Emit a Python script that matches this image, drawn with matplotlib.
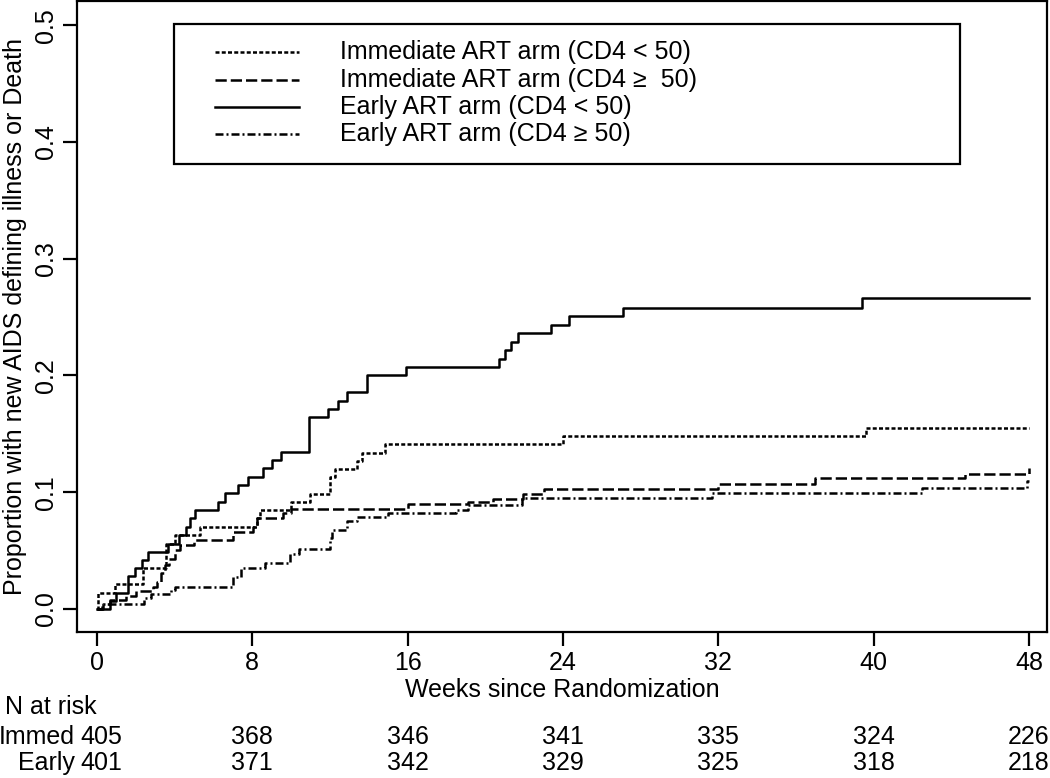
import matplotlib
matplotlib.use("Agg")
import matplotlib.pyplot as plt
from matplotlib.transforms import blended_transform_factory

plt.rcParams['font.family'] = ['Liberation Sans', 'DejaVu Sans']
plt.rcParams['font.size'] = 18

# cumulative incidence (week of jump, value after jump)
imm_lt50_t = [0, 0.07, 0.93, 2.38, 3.58, 4.0, 5.3, 8.22, 8.4, 10.0, 10.97, 12.0, 12.26,
              13.37, 13.63, 14.85, 24.0, 39.6, 48]
imm_lt50_p = [0, 0.014, 0.021, 0.035, 0.056, 0.063, 0.0705, 0.078, 0.085, 0.092, 0.0985,
              0.113, 0.120, 0.127, 0.134, 0.141, 0.148, 0.155, 0.155]

imm_ge50_t = [0, 0.33, 0.67, 1.5, 2.0, 2.9, 3.1, 3.3, 3.5, 3.7, 4.0, 4.3, 5.0, 7.0, 8.05,
              8.22, 9.6, 10.0, 16.0, 19.1, 20.4, 21.95, 23.0, 32.0, 37.0, 44.7, 48.0]
imm_ge50_p = [0, 0.004, 0.008, 0.011, 0.015, 0.019, 0.023, 0.031, 0.038, 0.043, 0.0505,
              0.055, 0.059, 0.066, 0.070, 0.0777, 0.082, 0.086, 0.090, 0.092, 0.094,
              0.0985, 0.1025, 0.107, 0.112, 0.1155, 0.1205]

early_lt50_t = [0, 0.67, 1.0, 1.6, 1.96, 2.3, 2.64, 3.67, 4.2, 4.6, 4.8, 5.05, 6.25, 6.6,
                7.27, 7.8, 8.55, 9.0, 9.5, 10.9, 11.9, 12.4, 12.9, 13.9, 15.9, 20.7, 21.0,
                21.35, 21.7, 23.4, 24.3, 27.1, 39.4, 48]
early_lt50_p = [0, 0.007, 0.014, 0.028, 0.035, 0.042, 0.049, 0.056, 0.063, 0.0705, 0.0777,
                0.0848, 0.092, 0.0996, 0.106, 0.113, 0.1205, 0.1276, 0.1347, 0.164, 0.171,
                0.178, 0.186, 0.200, 0.207, 0.214, 0.222, 0.229, 0.236, 0.243, 0.251,
                0.258, 0.266, 0.266]

early_ge50_t = [0, 0.25, 2.4, 2.8, 3.8, 4.0, 7.0, 7.4, 8.65, 9.95, 10.4, 12.0, 12.1, 12.9,
                13.4, 15.0, 18.5, 19.1, 21.9, 31.7, 42.5, 47.9, 48]
early_ge50_p = [0, 0.004, 0.009, 0.013, 0.016, 0.019, 0.027, 0.035, 0.039, 0.047, 0.051,
                0.061, 0.068, 0.0755, 0.079, 0.0825, 0.085, 0.089, 0.095, 0.099, 0.1034,
                0.110, 0.110]

labels = ["Immediate ART arm (CD4 < 50)", "Immediate ART arm (CD4 \u2265  50)",
          "Early ART arm (CD4 < 50)", "Early ART arm (CD4 \u2265 50)"]

risk_weeks = [0, 8, 16, 24, 32, 40, 48]
risk_immed = [405, 368, 346, 341, 335, 324, 226]
risk_early = [401, 371, 342, 329, 325, 318, 218]

curves = [(imm_lt50_t, imm_lt50_p), (imm_ge50_t, imm_ge50_p),
          (early_lt50_t, early_lt50_p), (early_ge50_t, early_ge50_p)]
styles = [(0, (1.6, 0.9)), (0, (4.5, 1.6)), '-', (0, (3.2, 1.2, 0.8, 1.2))]
lw = 1.8

fig = plt.figure(figsize=(10.5, 7.78), dpi=100)
ax = fig.add_axes([0.0733, 0.1877, 0.9238, 0.8111])

for (t, p), ls in zip(curves, styles):
    ax.step(t, p, where='post', color='black', lw=lw, linestyle=ls)

# legend box drawn by hand so the spacing matches
ax.add_patch(plt.Rectangle((0.100, 0.7417), 0.8103, 0.2218, transform=ax.transAxes,
                           fill=False, lw=1.6, ec='black'))
row_y = [0.9192, 0.8748, 0.8320, 0.7892]
for y, ls, lab in zip(row_y, styles, labels):
    ax.plot([0.1423, 0.2289], [y, y], transform=ax.transAxes, color='black', lw=lw,
            linestyle=ls)
    ax.text(0.2716, y, lab, transform=ax.transAxes, va='center', ha='left')

ax.set_xlim(-1.03, 48.93)
ax.set_ylim(-0.0197, 0.5208)
ax.set_xticks(risk_weeks)
ax.set_yticks([0, 0.1, 0.2, 0.3, 0.4, 0.5])
ax.set_yticklabels(["0.0", "0.1", "0.2", "0.3", "0.4", "0.5"], rotation=90, va='center')
ax.tick_params(direction='out', length=10, width=1.6, pad=4)
for s in ax.spines.values():
    s.set_linewidth(1.6)

ax.set_xlabel("Weeks since Randomization", labelpad=2)
ax.set_ylabel("Proportion with new AIDS defining illness or Death", labelpad=5)

# number at risk table (first column nudged right, as in the original)
trans = blended_transform_factory(ax.transData, fig.transFigure)
for w, n1, n2 in zip(risk_weeks, risk_immed, risk_early):
    xw = w + 0.2 if w == 0 else w
    ax.text(xw, 0.0527, str(n1), transform=trans, ha='center', va='center')
    ax.text(xw, 0.0193, str(n2), transform=trans, ha='center', va='center')
fig.text(5 / 1050, 0.0913, "N at risk", ha='left', va='center')
fig.text(75 / 1050, 0.0527, "Immed", ha='right', va='center')
fig.text(75 / 1050, 0.0193, "Early", ha='right', va='center')

fig.savefig("out.png", dpi=100)
